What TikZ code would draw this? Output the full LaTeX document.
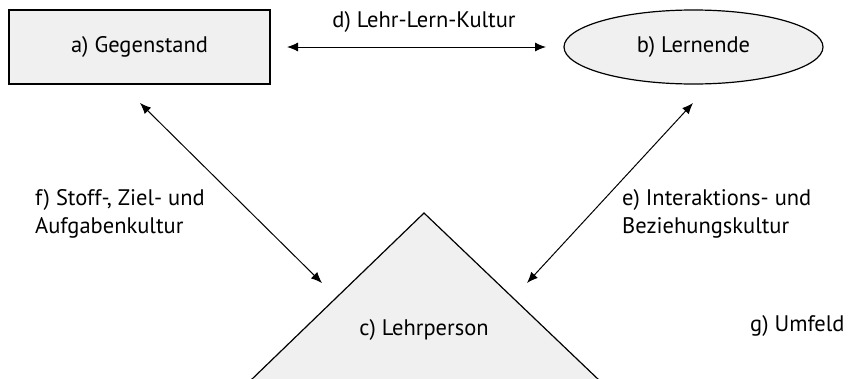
\documentclass[tikz,border=0pt]{standalone}
\usepackage{fontspec}
\setmainfont{PT Sans}
\usetikzlibrary{shapes.geometric,arrows.meta}
\definecolor{boxgray}{RGB}{240,240,240}
\tikzset{
  lbl/.style={font=\fontsize{22.5}{28}\selectfont, inner sep=0pt},
  shp/.style={draw=black, line width=1.2pt, fill=boxgray},
  conn/.style={line width=1pt, {Latex[length=11pt,width=9pt]}-{Latex[length=11pt,width=9pt]}}
}
\begin{document}
\begin{tikzpicture}[x=1pt,y=-1pt]
\useasboundingbox (0,0) rectangle (850,378);
\begin{scope}
\clip (0,0) rectangle (850,378);
\draw[shp] (424,213) -- (250,381) -- (600,381) -- cycle;
\end{scope}
\node[shp, minimum width=261pt, minimum height=74pt, anchor=center] (a) at (139.5,47) {};
\node[lbl] at (a) {a) Gegenstand};
\node[shp, ellipse, minimum width=259pt, minimum height=74pt, inner sep=0pt] (b) at (693.5,47) {};
\node[lbl] at (b) {b) Lernende};
\node[lbl] (c) at (424,330) {c) Lehrperson};
\coordinate (d1) at (287,47);
\coordinate (d2) at (546,47);
\draw[conn] (d1) -- (d2);
\node[lbl] (d) at (424,22) {d) Lehr-Lern-Kultur};
\coordinate (f1) at (140,103);
\coordinate (f2) at (322,283);
\draw[conn] (f1) -- (f2);
\coordinate (e1) at (693,103);
\coordinate (e2) at (527,283);
\draw[conn] (e1) -- (e2);
\node[lbl, anchor=west, align=left] (f) at (35,214) {f) Stoff-, Ziel- und\\Aufgabenkultur};
\node[lbl, anchor=west, align=left] (e) at (622,214) {e) Interaktions- und\\Beziehungskultur};
\node[lbl, anchor=west] (g) at (750,326) {g) Umfeld};
\end{tikzpicture}
\end{document}
